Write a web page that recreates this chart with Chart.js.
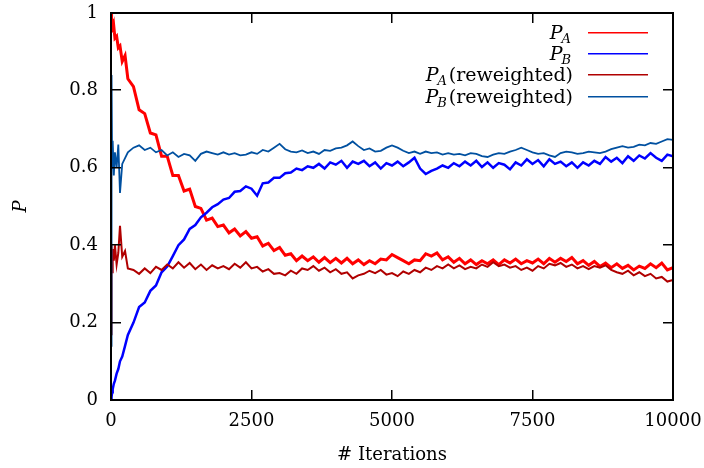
<!DOCTYPE html>
<html>
<head>
<meta charset="utf-8">
<script src="https://cdn.jsdelivr.net/npm/chart.js@4.4.1/dist/chart.umd.min.js"></script>
<style>
    body { margin: 0; background: white; }
    #wrap { width: 704px; height: 468px; }
</style>
</head>
<body>
<div id="wrap"><canvas id="myChart" width="704" height="468"></canvas></div>
<script>
// iteration number of each sample
const iterations = [0, 10, 20, 30, 50, 70, 100, 130, 160, 200, 250,
    300, 400, 500, 600, 700, 800, 900,
    1000, 1100, 1200, 1300, 1400, 1500, 1600, 1700, 1800, 1900,
    2000, 2100, 2200, 2300, 2400, 2500, 2600, 2700, 2800, 2900,
    3000, 3100, 3200, 3300, 3400, 3500, 3600, 3700, 3800, 3900,
    4000, 4100, 4200, 4300, 4400, 4500, 4600, 4700, 4800, 4900,
    5000, 5100, 5200, 5300, 5400, 5500, 5600, 5700, 5800, 5900,
    6000, 6100, 6200, 6300, 6400, 6500, 6600, 6700, 6800, 6900,
    7000, 7100, 7200, 7300, 7400, 7500, 7600, 7700, 7800, 7900,
    8000, 8100, 8200, 8300, 8400, 8500, 8600, 8700, 8800, 8900,
    9000, 9100, 9200, 9300, 9400, 9500, 9600, 9700, 9800, 9900,
    10000];

const pA = [1.0, 0.97, 0.985, 0.95, 0.965, 0.935, 0.94, 0.91, 0.915, 0.875, 0.89,
    0.83, 0.81, 0.75, 0.74, 0.69, 0.685, 0.63,
    0.63, 0.58, 0.58, 0.54, 0.545, 0.50, 0.495, 0.465, 0.47, 0.448,
    0.452, 0.432, 0.442, 0.424, 0.435, 0.418, 0.422, 0.398, 0.405, 0.386,
    0.394, 0.374, 0.378, 0.36, 0.372, 0.36, 0.37, 0.356, 0.368, 0.355,
    0.366, 0.354, 0.366, 0.352, 0.362, 0.35, 0.36, 0.352, 0.364, 0.362,
    0.376, 0.368, 0.36, 0.352, 0.362, 0.36, 0.378, 0.372, 0.38, 0.362,
    0.37, 0.356, 0.366, 0.352, 0.362, 0.35, 0.36, 0.352, 0.362, 0.35,
    0.362, 0.354, 0.364, 0.352, 0.36, 0.354, 0.364, 0.352, 0.366, 0.356,
    0.366, 0.358, 0.368, 0.352, 0.36, 0.348, 0.358, 0.345, 0.354, 0.342,
    0.352, 0.34, 0.348, 0.336, 0.346, 0.34, 0.352, 0.342, 0.354, 0.336,
    0.342];

const pB = [0.0, 0.008, 0.02, 0.028, 0.042, 0.05, 0.068, 0.08, 0.1, 0.112, 0.14,
    0.168, 0.2, 0.24, 0.252, 0.282, 0.296, 0.33,
    0.345, 0.372, 0.4, 0.415, 0.442, 0.452, 0.472, 0.484, 0.498, 0.506,
    0.518, 0.522, 0.538, 0.54, 0.552, 0.546, 0.528, 0.56, 0.562, 0.574,
    0.574, 0.586, 0.588, 0.598, 0.594, 0.604, 0.6, 0.61, 0.598, 0.614,
    0.608, 0.618, 0.6, 0.616, 0.61, 0.618, 0.604, 0.614, 0.598, 0.612,
    0.606, 0.616, 0.604, 0.614, 0.626, 0.598, 0.584, 0.592, 0.598, 0.606,
    0.6, 0.612, 0.604, 0.616, 0.606, 0.618, 0.602, 0.614, 0.6, 0.612,
    0.608, 0.596, 0.614, 0.606, 0.622, 0.61, 0.62, 0.604, 0.622, 0.61,
    0.616, 0.604, 0.614, 0.6, 0.614, 0.606, 0.618, 0.61, 0.628, 0.616,
    0.626, 0.612, 0.63, 0.618, 0.632, 0.624, 0.638, 0.626, 0.618, 0.634,
    0.63];

const pARew = [0.17, 0.40, 0.33, 0.39, 0.36, 0.40, 0.35, 0.38, 0.45, 0.37, 0.385,
    0.34, 0.336, 0.326, 0.34, 0.328, 0.344, 0.336,
    0.35, 0.34, 0.356, 0.342, 0.354, 0.338, 0.35, 0.336, 0.348, 0.34,
    0.346, 0.338, 0.352, 0.342, 0.356, 0.34, 0.344, 0.332, 0.338, 0.326,
    0.328, 0.322, 0.334, 0.326, 0.34, 0.336, 0.346, 0.334, 0.342, 0.33,
    0.338, 0.326, 0.33, 0.314, 0.322, 0.326, 0.334, 0.328, 0.336, 0.324,
    0.328, 0.32, 0.332, 0.326, 0.336, 0.33, 0.342, 0.336, 0.346, 0.34,
    0.35, 0.34, 0.348, 0.338, 0.344, 0.34, 0.35, 0.344, 0.356, 0.346,
    0.35, 0.342, 0.346, 0.336, 0.342, 0.334, 0.346, 0.34, 0.352, 0.348,
    0.354, 0.344, 0.35, 0.34, 0.346, 0.338, 0.346, 0.342, 0.348, 0.336,
    0.33, 0.326, 0.334, 0.322, 0.33, 0.32, 0.326, 0.314, 0.318, 0.306,
    0.31];

const pBRew = [0.14, 0.84, 0.60, 0.67, 0.58, 0.64, 0.60, 0.66, 0.535, 0.61, 0.625,
    0.64, 0.652, 0.658, 0.646, 0.652, 0.64, 0.646,
    0.632, 0.64, 0.628, 0.636, 0.632, 0.618, 0.636, 0.642, 0.638, 0.634,
    0.64, 0.634, 0.638, 0.632, 0.634, 0.64, 0.636, 0.646, 0.642, 0.652,
    0.662, 0.648, 0.642, 0.64, 0.645, 0.638, 0.642, 0.636, 0.646, 0.644,
    0.65, 0.652, 0.658, 0.668, 0.656, 0.646, 0.65, 0.642, 0.644, 0.652,
    0.658, 0.652, 0.644, 0.638, 0.642, 0.636, 0.642, 0.638, 0.64, 0.634,
    0.638, 0.634, 0.636, 0.632, 0.638, 0.636, 0.63, 0.628, 0.634, 0.638,
    0.636, 0.642, 0.646, 0.652, 0.646, 0.64, 0.636, 0.638, 0.632, 0.628,
    0.638, 0.642, 0.64, 0.636, 0.638, 0.642, 0.64, 0.638, 0.642, 0.648,
    0.652, 0.656, 0.652, 0.654, 0.66, 0.658, 0.664, 0.662, 0.668, 0.674,
    0.672];

// legend: [main letter, subscript, rest]
const legendItems = [
    ['P', 'A', ''],
    ['P', 'B', ''],
    ['P', 'A', '(reweighted)'],
    ['P', 'B', '(reweighted)']
];
const colors = ['#ff0000', '#0000ff', '#b00000', '#0050a0'];

const xTicks = [0, 2500, 5000, 7500, 10000];
const yTicks = [0, 0.2, 0.4, 0.6, 0.8, 1];

const serif = 'DejaVu Serif';

function toPoints(ys) {
    return ys.map((y, i) => ({ x: iterations[i], y: y }));
}

function makeSet(label, ys, color, width, order) {
    return {
        label: label,
        data: toPoints(ys),
        showLine: true,
        borderColor: color,
        backgroundColor: color,
        borderWidth: width,
        pointRadius: 0,
        tension: 0,
        order: order
    };
}

// box + inward ticks like gnuplot, drawn as filled rects
const framePlugin = {
    id: 'frame',
    afterDraw(chart) {
        const c = chart.ctx;
        const a = chart.chartArea;
        const xs = chart.scales.x;
        const ys = chart.scales.y;
        const L = Math.round(a.left), R = Math.round(a.right);
        const T = Math.round(a.top), B = Math.round(a.bottom);
        c.save();
        c.globalAlpha = 1;
        c.globalCompositeOperation = 'source-over';
        c.fillStyle = '#000000';
        c.fillRect(L - 1, T - 1, R - L + 2, 2);
        c.fillRect(L - 1, B - 1, R - L + 2, 2);
        c.fillRect(L - 1, T - 1, 2, B - T + 2);
        c.fillRect(R - 1, T - 1, 2, B - T + 2);
        xTicks.forEach(v => {
            const px = Math.round(xs.getPixelForValue(v));
            c.fillRect(px - 1, B - 10, 1.5, 10);
            c.fillRect(px - 1, T, 1.5, 10);
        });
        yTicks.forEach(v => {
            const py = Math.round(ys.getPixelForValue(v));
            c.fillRect(L, py - 1, 10, 1.5);
            c.fillRect(R - 10, py - 1, 10, 1.5);
        });

        // legend
        const textRight = R - 100;
        const lineX0 = R - 85;
        const lineX1 = R - 25;
        c.textBaseline = 'alphabetic';
        c.textAlign = 'left';
        legendItems.forEach((it, i) => {
            const yMid = T + 19.5 + i * 21.4;
            const base = yMid + 6;
            c.font = '19px "' + serif + '"';
            const wRest = c.measureText(it[2]).width;
            c.font = 'italic 13px "' + serif + '"';
            const wSub = c.measureText(it[1]).width;
            c.font = 'italic 19px "' + serif + '"';
            const wP = c.measureText(it[0]).width;
            let x = textRight - wRest - wSub - wP - 1;
            c.fillStyle = '#000';
            c.fillText(it[0], x, base);
            x += wP - 1;
            c.font = 'italic 13px "' + serif + '"';
            c.fillText(it[1], x, base + 4);
            x += wSub + 2;
            c.font = '19px "' + serif + '"';
            c.fillText(it[2], x, base);

            c.fillStyle = colors[i];
            c.fillRect(lineX0, Math.round(yMid) - 1, lineX1 - lineX0, 1.5);
        });
        c.restore();
    }
};

const config = {
    type: 'scatter',
    data: {
        datasets: [
            makeSet('P_A', pA, colors[0], 3, 4),
            makeSet('P_B', pB, colors[1], 2.5, 3),
            makeSet('P_A(reweighted)', pARew, colors[2], 2, 2),
            makeSet('P_B(reweighted)', pBRew, colors[3], 1.8, 1)
        ]
    },
    options: {
        responsive: false,
        animation: false,
        layout: { padding: { top: 13, right: 31, left: 0, bottom: 0 } },
        plugins: {
            legend: { display: false },
            tooltip: { enabled: false }
        },
        scales: {
            x: {
                type: 'linear',
                min: 0,
                max: 10000,
                grid: { display: false, drawTicks: false },
                border: { display: false },
                afterBuildTicks: (s) => { s.ticks = xTicks.map(v => ({ value: v })); },
                afterFit: (s) => {
                    s.height = 68;
                    s.paddingLeft = 0;
                    s.paddingRight = 0;
                },
                ticks: {
                    color: '#000',
                    padding: 11,
                    maxRotation: 0,
                    font: { family: serif, size: 18 },
                    callback: (v) => String(v)
                },
                title: {
                    display: true,
                    text: '# Iterations',
                    color: '#000',
                    padding: { top: 8, bottom: 2 },
                    font: { family: serif, size: 18 }
                }
            },
            y: {
                min: 0,
                max: 1,
                grid: { display: false, drawTicks: false },
                border: { display: false },
                afterBuildTicks: (s) => { s.ticks = yTicks.map(v => ({ value: v })); },
                afterFit: (s) => {
                    s.width = 111;
                    s.paddingTop = 0;
                    s.paddingBottom = 0;
                },
                ticks: {
                    color: '#000',
                    padding: 13,
                    font: { family: serif, size: 18 },
                    callback: (v) => String(v)
                },
                title: {
                    display: true,
                    text: 'P',
                    color: '#000',
                    padding: { top: 11, bottom: 0 },
                    font: { family: serif, size: 18, style: 'italic' }
                }
            }
        }
    },
    plugins: [framePlugin]
};

const chart = new Chart(document.getElementById('myChart'), config);
</script>
</body>
</html>
